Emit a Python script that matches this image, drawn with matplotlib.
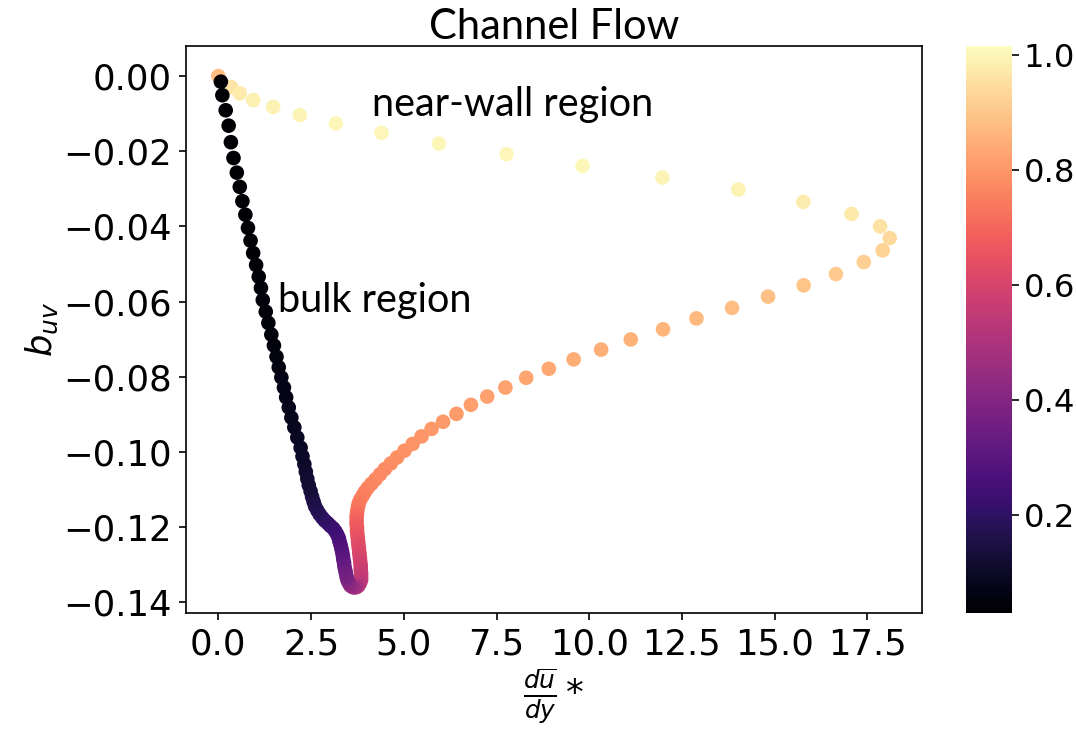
import matplotlib
matplotlib.use("Agg")
import matplotlib.pyplot as plt
from matplotlib.ticker import FuncFormatter

# ---- data: path from wall (color ~1) to centreline (color ~0.03) ----
dudy = [
    0.00, 0.34, 0.58, 0.94, 1.48, 2.20, 3.17, 4.40, 5.95, 7.77,
    9.82, 11.97, 14.02, 15.77, 17.07, 17.84, 18.10, 17.91, 17.40, 16.65,
    15.78, 14.82, 13.85, 12.89, 11.99, 11.12, 10.32, 9.58, 8.91, 8.30,
    7.74, 7.25, 6.81, 6.42, 6.06, 5.75, 5.48, 5.24, 5.02, 4.82,
    4.65, 4.49, 4.36, 4.24, 4.13, 4.03, 3.95, 3.89, 3.83, 3.79,
    3.77, 3.75, 3.74, 3.73, 3.73, 3.73, 3.74, 3.74, 3.75, 3.76,
    3.77, 3.78, 3.79, 3.80, 3.81, 3.82, 3.83, 3.84, 3.84, 3.85,
    3.85, 3.85, 3.82, 3.78, 3.73, 3.67, 3.62, 3.56, 3.52, 3.48,
    3.46, 3.44, 3.42, 3.40, 3.39, 3.37, 3.36, 3.34, 3.32, 3.30,
    3.27, 3.25, 3.21, 3.16, 3.10, 3.02, 2.95, 2.87, 2.80, 2.73,
    2.67, 2.61, 2.57, 2.53, 2.49, 2.44, 2.40, 2.36, 2.32, 2.27,
    2.22, 2.13, 2.05, 1.97, 1.90, 1.83, 1.77, 1.70, 1.63, 1.57,
    1.50, 1.43, 1.35, 1.28, 1.20, 1.15, 1.09, 1.02, 0.94, 0.87,
    0.80, 0.73, 0.65, 0.58, 0.50, 0.41, 0.34, 0.28, 0.20, 0.11,
    0.07,
]
b_uv = [
    0.0000, -0.0029, -0.0046, -0.0064, -0.0082, -0.0104, -0.0126, -0.0151, -0.0180, -0.0208,
    -0.0239, -0.0270, -0.0302, -0.0335, -0.0367, -0.0400, -0.0431, -0.0464, -0.0495, -0.0527,
    -0.0557, -0.0587, -0.0617, -0.0645, -0.0674, -0.0701, -0.0728, -0.0754, -0.0779, -0.0803,
    -0.0829, -0.0853, -0.0875, -0.0899, -0.0920, -0.0939, -0.0959, -0.0979, -0.0997, -0.1015,
    -0.1031, -0.1046, -0.1060, -0.1073, -0.1085, -0.1096, -0.1107, -0.1117, -0.1127, -0.1136,
    -0.1145, -0.1155, -0.1164, -0.1173, -0.1183, -0.1192, -0.1201, -0.1211, -0.1220, -0.1229,
    -0.1239, -0.1248, -0.1257, -0.1267, -0.1276, -0.1285, -0.1295, -0.1304, -0.1313, -0.1323,
    -0.1332, -0.1341, -0.1349, -0.1356, -0.1360, -0.1361, -0.1360, -0.1356, -0.1349, -0.1341,
    -0.1333, -0.1323, -0.1314, -0.1305, -0.1295, -0.1286, -0.1277, -0.1267, -0.1258, -0.1249,
    -0.1239, -0.1230, -0.1221, -0.1212, -0.1204, -0.1197, -0.1190, -0.1183, -0.1175, -0.1166,
    -0.1156, -0.1145, -0.1133, -0.1120, -0.1105, -0.1089, -0.1072, -0.1053, -0.1033, -0.1012,
    -0.0989, -0.0962, -0.0935, -0.0909, -0.0882, -0.0855, -0.0829, -0.0802, -0.0775, -0.0747,
    -0.0717, -0.0688, -0.0657, -0.0627, -0.0596, -0.0564, -0.0534, -0.0503, -0.0471, -0.0438,
    -0.0404, -0.0369, -0.0333, -0.0295, -0.0257, -0.0218, -0.0176, -0.0132, -0.0091, -0.0051,
    -0.0015,
]
color_val = [
    0.880, 0.960, 0.975, 0.985, 0.990, 0.995, 1.000, 1.000, 1.000, 1.000,
    1.000, 0.995, 0.990, 0.980, 0.970, 0.955, 0.940, 0.925, 0.915, 0.905,
    0.895, 0.885, 0.877, 0.870, 0.862, 0.855, 0.848, 0.842, 0.836, 0.830,
    0.825, 0.820, 0.815, 0.810, 0.806, 0.802, 0.798, 0.794, 0.790, 0.786,
    0.782, 0.778, 0.774, 0.770, 0.766, 0.762, 0.758, 0.753, 0.748, 0.742,
    0.736, 0.728, 0.720, 0.700, 0.692, 0.683, 0.675, 0.667, 0.658, 0.650,
    0.642, 0.633, 0.625, 0.617, 0.608, 0.600, 0.592, 0.583, 0.575, 0.567,
    0.558, 0.550, 0.540, 0.520, 0.500, 0.480, 0.460, 0.440, 0.420, 0.400,
    0.380, 0.370, 0.360, 0.350, 0.340, 0.330, 0.320, 0.310, 0.300, 0.290,
    0.280, 0.270, 0.260, 0.250, 0.240, 0.230, 0.220, 0.210, 0.200, 0.190,
    0.180, 0.170, 0.160, 0.150, 0.140, 0.130, 0.120, 0.115, 0.110, 0.105,
    0.100, 0.095, 0.090, 0.085, 0.080, 0.075, 0.070, 0.066, 0.062, 0.058,
    0.055, 0.052, 0.050, 0.048, 0.046, 0.044, 0.042, 0.040, 0.039, 0.038,
    0.037, 0.036, 0.035, 0.034, 0.033, 0.032, 0.031, 0.031, 0.030, 0.030,
    0.030,
]

xticks = [0, 2.5, 5, 7.5, 10, 12.5, 15, 17.5]
yticks = [0.0, -0.02, -0.04, -0.06, -0.08, -0.10, -0.12, -0.14]
cbar_ticks = [0.2, 0.4, 0.6, 0.8, 1.0]

title = "Channel Flow"
label_near = "near-wall region"
label_bulk = "bulk region"

plt.rcParams['font.family'] = 'DejaVu Sans'
plt.rcParams['font.size'] = 17
plt.rcParams['mathtext.fontset'] = 'dejavusans'

fig = plt.figure(figsize=(1076 / 150, 729 / 150), dpi=150)
ax = fig.add_axes([186 / 1076, (729 - 613) / 729, (922 - 186) / 1076, (613 - 46) / 729])
cax = fig.add_axes([966 / 1076, (729 - 613) / 729, 46 / 1076, (613 - 46) / 729])

sc = ax.scatter(dudy, b_uv, c=color_val, cmap='magma', s=36, vmin=0.03, vmax=1.015)
cb = fig.colorbar(sc, cax=cax, ticks=cbar_ticks)
cb.outline.set_visible(False)
cb.ax.yaxis.set_major_formatter(FuncFormatter(lambda v, p: f'{v:.1f}'))
cb.ax.tick_params(pad=2, labelsize=15.5)

ax.set_title(title, family='Lato', fontsize=20, pad=2)
ax.set_xlabel(r'$\frac{d\overline{u}}{dy}*$', fontsize=17, labelpad=2)
ax.set_ylabel(r'$b_{uv}$', labelpad=1.5)
ax.text(4.14, -0.0075, label_near, family='Lato', fontsize=19, va='center', ha='left')
ax.text(1.61, -0.0597, label_bulk, family='Lato', fontsize=19, va='center', ha='left')

ax.set_xticks(xticks)
ax.set_yticks(yticks)
ax.xaxis.set_major_formatter(FuncFormatter(lambda v, p: f'{v:.1f}'))
ax.yaxis.set_major_formatter(
    FuncFormatter(lambda v, p: ('%.2f' % v).replace('-', '\u2212') if abs(v) > 1e-9 else '0.00'))
ax.set_xlim(-0.87, 18.97)
ax.set_ylim(-0.1429, 0.0080)

fig.savefig('out.png', dpi=150)
